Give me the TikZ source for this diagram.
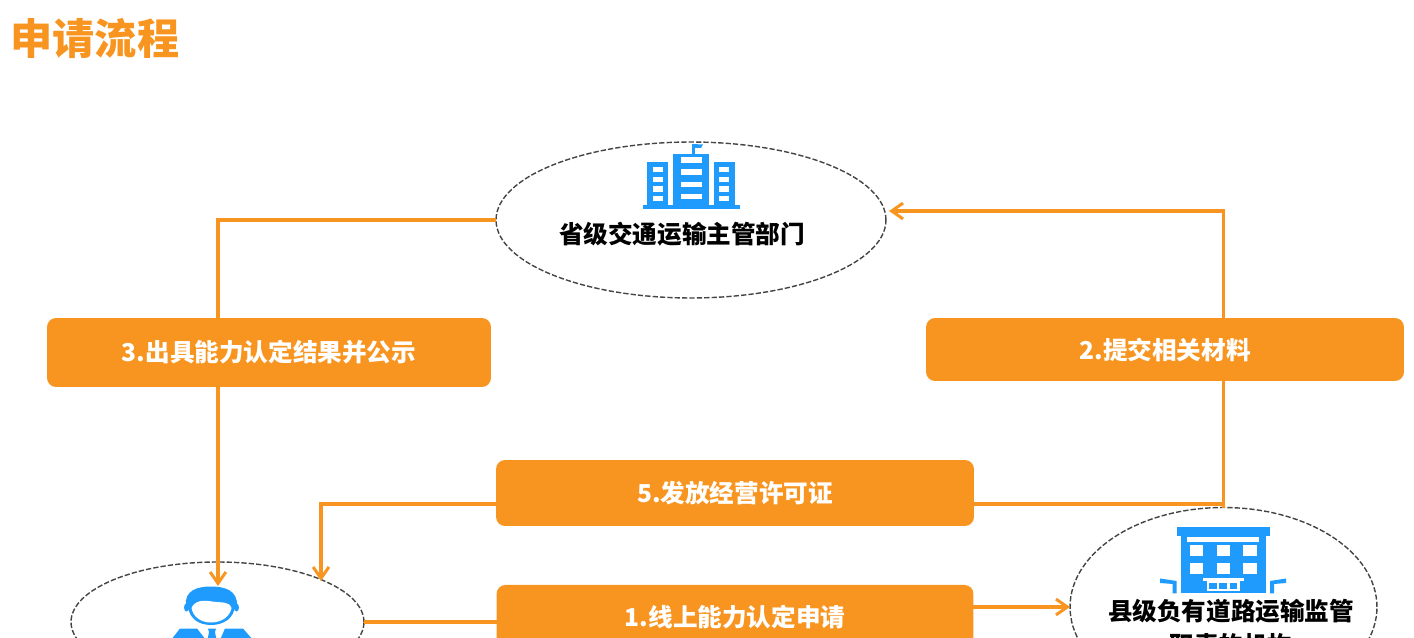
\documentclass[tikz,border=0pt]{standalone}
\usepackage{fontspec}
\newfontfamily\cjk{Noto Sans CJK SC}
\usetikzlibrary{positioning,shapes.geometric,arrows.meta}
\definecolor{flowor}{HTML}{F89520}
\definecolor{iconblue}{HTML}{1F9BFD}
\definecolor{ringgray}{HTML}{444444}
\tikzset{main node/.style={ellipse,draw=ringgray,dashed,dash pattern=on 3pt off 1.2pt,line width=0.8pt,inner sep=0pt,outer sep=0pt},
stepbox/.style={fill=flowor,rounded corners=0.18cm,text=white,font=\cjk\bfseries\fontsize{14}{17}\selectfont,inner sep=0pt,outer sep=0pt},
ringtext/.style={font=\cjk\bfseries\fontsize{14}{19.4}\selectfont,text=black,align=center,inner sep=0pt},
flow/.style={draw=flowor,line width=1.9pt},
}

\begin{document}
\begin{tikzpicture}[x=0.02cm,y=-0.02cm,>={Straight Barb[length=6.5pt,width=9pt,line width=1.7pt]}]
		\path[use as bounding box,clip] (0,0) rectangle (1414,638);
		\node[font=\cjk\bfseries\fontsize{24}{28}\selectfont,text=flowor,inner sep=0pt] (title) at (95,38){申请流程};

		\node[main node,minimum width=7.8cm,minimum height=3.12cm] (prov) at (691,220){};
		\node[main node,minimum width=6.14cm,minimum height=3.98cm] (county) at (1223.5,607){};
		\node[main node,minimum width=5.86cm,minimum height=2.4cm] (staff) at (217.5,622){};

		\node[stepbox,minimum width=8.88cm,minimum height=1.38cm] (result) at (269,352.5){3.出具能力认定结果并公示};
		\node[stepbox,minimum width=9.56cm,minimum height=1.26cm] (material) at (1165,349.5){2.提交相关材料};
		\node[stepbox,minimum width=9.56cm,minimum height=1.32cm] (issue) at (735,493){5.发放经营许可证};
		\node[stepbox,minimum width=9.54cm,minimum height=1.3cm] (apply)[below = 1.18cm of issue]{1.线上能力认定申请};

		\node[ringtext] (provname) at (682,234){省级交通运输主管部门};
		\node[ringtext] (countyname) at (1231,628){县级负有道路运输监管\\职责的机构};

		\coordinate (person) at (218,586);
		\coordinate (licence) at (321,581);
		\coordinate (provtip) at (889,211);
		\coordinate (join) at (1223.5,504);

		\path[flow]
		(prov.west) -| (result.north -| person)
		(material.south -| county.north) -- (county.north)
		(issue.east |- join) -- (join)
		(staff.east) -- (staff.east -| apply.west);
		\draw[flow,->] (result.south -| person) -- (person);
		\draw[flow,->] (material.north -| county.north) |- (provtip);
		\draw[flow,->] (issue.west |- join) -| (licence);
		\draw[flow,->] (apply.east |- county.west) -- (county.west);

		% office block, top
		\fill[iconblue] (642.7,205) rectangle (740,209.5);
		\fill[iconblue] (646.7,161.7) rectangle (668.3,205);
		\fill[iconblue] (673.3,154) rectangle (709.3,205);
		\fill[iconblue] (714,161.7) rectangle (735,205);
		\fill[iconblue] (692,145) rectangle (694.5,154);
		\fill[iconblue] (692,144) -- (703,144.5) -- (701,148) -- (692,148) -- cycle;
		\foreach \wy in {166.7,176.7,186,195.7}{
			\fill[white] (653,\wy) rectangle +(10,5.7);
			\fill[white] (719.3,\wy) rectangle +(10,5.7);
		}
		\foreach \wy in {157.3,169.3,181.7,193.7}
			\fill[white] (681,\wy) rectangle +(20.7,5.8);

		% office block, right
		\fill[iconblue] (1176.7,526.7) rectangle (1270,536);
		\fill[iconblue] (1180.7,536) rectangle (1266,593.3);
		\fill[white] (1186.7,536.7) rectangle (1259.3,541.7);
		\foreach \wx in {1190,1216.7,1243.3}
			\foreach \wy in {545,562.7}
				\fill[white] (\wx,\wy) rectangle +(13.3,11.5);
		\fill[white] (1202.7,577.7) rectangle (1244,580.7);
		\fill[white] (1206.7,580.7) rectangle (1240,591);
		\foreach \wx in {1209.3,1219.3,1229.7}
			\fill[iconblue] (\wx,583.3) rectangle +(7.2,6);
		\fill[iconblue] (1160,578.5) -- (1176.7,581) -- (1176.7,593.3) -- (1172.7,593.3) -- (1172.7,584) -- (1160,583) -- cycle;
		\fill[iconblue] (1286,578.5) -- (1270,581) -- (1270,593.3) -- (1274,593.3) -- (1274,584) -- (1286,583) -- cycle;

		% person
		\fill[iconblue] (186,606) .. controls (184,590) and (198,586.5) .. (211,586.5) .. controls (224,586.5) and (238,590) .. (237,606) -- (232,612) -- (190,612) -- cycle;
		\fill[iconblue] (186.5,607.5) ellipse (2.5 and 4);
		\fill[iconblue] (236.5,607.5) ellipse (2.5 and 4);
		\fill[iconblue] (188,606) .. controls (189,618) and (198,625) .. (211,625) .. controls (224,625) and (234,618) .. (235,606) -- cycle;
		\fill[white] (191.5,608) .. controls (193,617) and (201,622.5) .. (211,622.5) .. controls (221,622.5) and (230,617) .. (231.5,608) .. controls (229,601) and (222,603) .. (212,601.5) .. controls (204,600) and (195,600) .. (191.5,608) -- cycle;
		\fill[iconblue] (171,640) -- (180,628.5) -- (197,628.5) -- (206,640) -- cycle;
		\fill[iconblue] (253,640) -- (243,628.5) -- (225,628.5) -- (220,640) -- cycle;
		\fill[iconblue] (208,628.5) -- (216,628.5) -- (215,632) -- (216.5,640) -- (207.5,640) -- (209,632) -- cycle;
	\end{tikzpicture}
\end{document}
